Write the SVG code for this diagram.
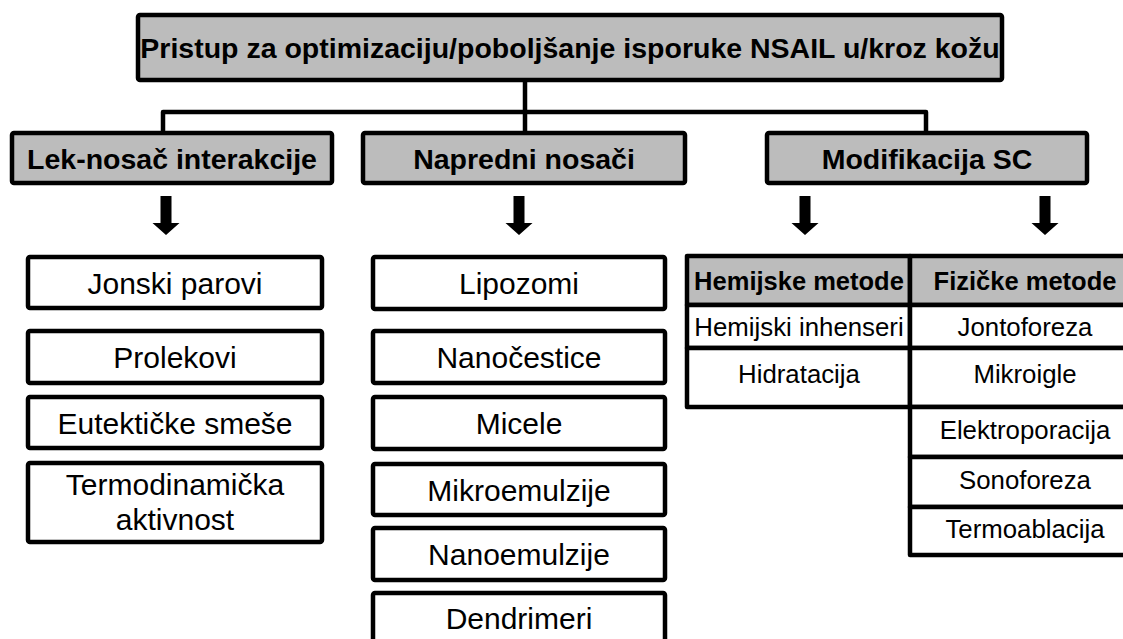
<svg xmlns="http://www.w3.org/2000/svg" width="1123" height="639" viewBox="0 0 1123 639">
<defs>
<style>
.box{fill:#fff;stroke:#000;stroke-width:4.5;stroke-linejoin:round}
.hdr{fill:#bcbcbc;stroke:#000;stroke-width:4.5;stroke-linejoin:round}
.line{fill:none;stroke:#000;stroke-width:4.5;stroke-linejoin:round;stroke-linecap:butt}
.t{font-family:"Liberation Sans",Arial,sans-serif;font-size:30px;fill:#000;text-anchor:middle}
.b{font-family:"Liberation Sans",Arial,sans-serif;font-size:28.5px;font-weight:bold;fill:#000;text-anchor:middle}
.tt{font-family:"Liberation Sans",Arial,sans-serif;font-size:25.8px;fill:#000;text-anchor:middle}
.tb{font-family:"Liberation Sans",Arial,sans-serif;font-size:25.5px;font-weight:bold;fill:#000;text-anchor:middle}
</style>
<path id="arr" d="M-5.5,0 H5.5 V27 H13.5 L0,39 L-13.5,27 H-5.5 Z" fill="#000"/>
</defs>
<rect width="1123" height="639" fill="#fff"/>

<g id="connectors">
<path class="line" d="M525,80 V112 M163,133 V112 H926 V133 M525,112 V133"/>
<use href="#arr" x="166" y="196"/>
<use href="#arr" x="519" y="196"/>
<use href="#arr" x="805" y="196"/>
<use href="#arr" x="1045" y="196"/>
</g>

<g id="root">
<rect class="hdr" x="138" y="15" width="864" height="65" rx="2"/>
<text class="b" x="570" y="57.5">Pristup za optimizaciju/poboljšanje isporuke NSAIL u/kroz kožu</text>
</g>

<g id="lek-nosac">
<rect class="hdr" x="12" y="133" width="320" height="50" rx="2"/>
<text class="b" x="172" y="168.5">Lek-nosač interakcije</text>
</g>
<g id="napredni">
<rect class="hdr" x="363" y="133" width="322" height="50" rx="2"/>
<text class="b" x="524" y="168.5">Napredni nosači</text>
</g>
<g id="modifikacija">
<rect class="hdr" x="767" y="133" width="320" height="50" rx="2"/>
<text class="b" x="927" y="168.5">Modifikacija SC</text>
</g>

<g id="jonski">
<rect class="box" x="28" y="257" width="294" height="51" rx="2"/>
<text class="t" x="175" y="293.5">Jonski parovi</text>
</g>
<g id="prolekovi">
<rect class="box" x="28" y="331" width="294" height="52" rx="2"/>
<text class="t" x="175" y="367.5">Prolekovi</text>
</g>
<g id="eutekticke">
<rect class="box" x="28" y="397" width="294" height="51" rx="2"/>
<text class="t" x="175" y="433.5">Eutektičke smeše</text>
</g>
<g id="termodinamicka">
<rect class="box" x="28" y="463" width="294" height="79" rx="2"/>
<text class="t" x="175" y="495">Termodinamička</text>
<text class="t" x="175" y="530">aktivnost</text>
</g>

<g id="lipozomi">
<rect class="box" x="373" y="257" width="292" height="52" rx="2"/>
<text class="t" x="519" y="293.5">Lipozomi</text>
</g>
<g id="nanocestice">
<rect class="box" x="373" y="331" width="292" height="52" rx="2"/>
<text class="t" x="519" y="367.5">Nanočestice</text>
</g>
<g id="micele">
<rect class="box" x="373" y="397" width="292" height="52" rx="2"/>
<text class="t" x="519" y="433.5">Micele</text>
</g>
<g id="mikroemulzije">
<rect class="box" x="373" y="464" width="292" height="51" rx="2"/>
<text class="t" x="519" y="500.5">Mikroemulzije</text>
</g>
<g id="nanoemulzije">
<rect class="box" x="373" y="528" width="292" height="52" rx="2"/>
<text class="t" x="519" y="564.5">Nanoemulzije</text>
</g>
<g id="dendrimeri">
<rect class="box" x="373" y="593" width="292" height="60" rx="2"/>
<text class="t" x="519" y="628.5">Dendrimeri</text>
</g>

<g id="hemijske">
<rect class="hdr" x="687" y="256" width="223" height="49"/>
<rect class="box" x="687" y="305" width="223" height="43"/>
<rect class="box" x="687" y="348" width="223" height="59"/>
<text class="tb" x="799" y="290">Hemijske metode</text>
<text class="tt" x="799" y="336">Hemijski inhenseri</text>
<text class="tt" x="799" y="383">Hidratacija</text>
</g>
<g id="fizicke">
<rect class="hdr" x="910" y="256" width="230" height="49"/>
<rect class="box" x="910" y="305" width="230" height="43"/>
<rect class="box" x="910" y="348" width="230" height="59"/>
<rect class="box" x="910" y="407" width="230" height="50"/>
<rect class="box" x="910" y="457" width="230" height="50"/>
<rect class="box" x="910" y="507" width="230" height="48"/>
<text class="tb" x="1025" y="290">Fizičke metode</text>
<text class="tt" x="1025" y="336">Jontoforeza</text>
<text class="tt" x="1025" y="383">Mikroigle</text>
<text class="tt" x="1025" y="438.5">Elektroporacija</text>
<text class="tt" x="1025" y="488.5">Sonoforeza</text>
<text class="tt" x="1025" y="537.5">Termoablacija</text>
</g>
</svg>
